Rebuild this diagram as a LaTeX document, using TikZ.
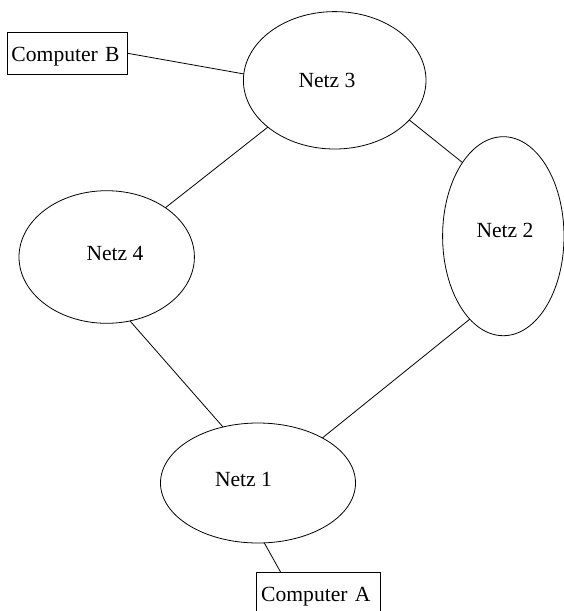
\documentclass[tikz,border=0pt]{standalone}
\usepackage{fontspec}
\setmainfont{Liberation Serif}
\usetikzlibrary{shapes.geometric}
\begin{document}
\begin{tikzpicture}[x=1pt,y=-1pt,
  net/.style={draw, ellipse, inner sep=0pt, outer sep=0pt, line width=0.8pt},
  comp/.style={draw, rectangle, line width=0.8pt, inner xsep=4.5pt, inner ysep=0pt, outer sep=0pt, text height=29pt, text depth=12.3pt, align=left, font=\fontsize{21.6}{24}\selectfont},
  lbl/.style={anchor=base, inner sep=0pt, font=\fontsize{21.6}{24}\selectfont},
  link/.style={line width=0.8pt}]
\useasboundingbox (0,0) rectangle (564,611);
\node[net, minimum width=182.6pt, minimum height=137.4pt] (n3) at (334.7,80.3) {};
\node[net, minimum width=121.4pt, minimum height=199pt] (n2) at (503.3,236.2) {};
\node[net, minimum width=175.4pt, minimum height=132.6pt] (n4) at (106.7,257) {};
\node[net, minimum width=195pt, minimum height=120pt] (n1) at (258,483) {};
\node[lbl] (t3) at (327,87.3) {Netz 3};
\node[lbl] (t2) at (505,237.7) {Netz 2};
\node[lbl] (t4) at (115,260.7) {Netz 4};
\node[lbl] (t1) at (243.5,486) {Netz 1};
\node[comp, text width=111.7pt] (cb) at (67.35,53.3) {Computer B};
\node[comp, text width=115pt] (ca) at (318.7,592.95) {Computer A};
\draw[link] (cb.east) -- (n3.176);
\draw[link] (n3.215.6) -- (n4.40.4);
\draw[link] (n3.332) -- (n2.119.3);
\draw[link] (n2.248.7) -- (n1.35.9);
\draw[link] (n4.290.9) -- (n1.122);
\draw[link] (n1.276.8) -- ([xshift=24pt]ca.north west);
\end{tikzpicture}
\end{document}
